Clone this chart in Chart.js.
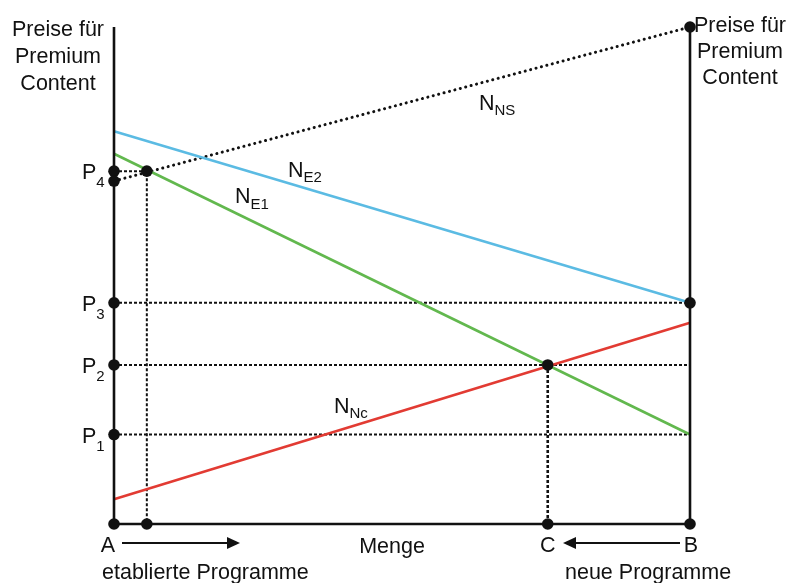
<!DOCTYPE html>
<html>
<head>
<meta charset="utf-8">
<style>
  html, body { margin: 0; padding: 0; background: #fff; }
  #wrap { width: 789px; height: 583px; position: relative; }
</style>
<script src="https://cdn.jsdelivr.net/npm/chart.js@4.4.1/dist/chart.umd.min.js"></script>
</head>
<body>
<div id="wrap"><canvas id="c" width="789" height="583"></canvas></div>
<script>
// ---- data (quantity 0..100 between A and B, price 0..100) ----
const quantityEnds = [0, 100];          // A, B
const nNS = [69, 100];                  // dotted demand line N_NS
const nE2 = [79, 44.5];                 // blue N_E2
const nE1 = [74.5, 18];                 // green N_E1
const nNc = [5, 40.5];                  // red N_Nc
const priceNames = ['1', '2', '3', '4'];
const priceValues = [18, 32, 44.5, 71]; // P1..P4
const qP4 = 5.7;                        // quantity at P4 intersection
const qC = 75.3;                        // quantity C
const axisTop = 100;

const FONT = '"Liberation Sans", Arial, sans-serif';
const MAIN = 21.5, SUBF = 15;

function seg(x0, y0, x1, y1) { return [{x: x0, y: y0}, {x: x1, y: y1}]; }

const dotted = {
  borderColor: '#111', borderWidth: 2, borderDash: [3, 2],
  pointRadius: 0, fill: false, clip: false, order: 5
};

const datasets = [
  {
    type: 'scatter', order: 0, clip: false,
    data: [
      {x: quantityEnds[0], y: 0},
      ...priceValues.map(v => ({x: quantityEnds[0], y: v})),
      {x: quantityEnds[0], y: nNS[0]},
      {x: qP4, y: priceValues[3]},
      {x: qP4, y: 0},
      {x: qC, y: priceValues[1]},
      {x: qC, y: 0},
      {x: quantityEnds[1], y: 0},
      {x: quantityEnds[1], y: nE2[1]},
      {x: quantityEnds[1], y: nNS[1]}
    ],
    pointRadius: 5.8, pointBackgroundColor: '#111', pointBorderWidth: 0, showLine: false
  },
  {
    data: [{x: 0, y: axisTop}, {x: 0, y: 0}, {x: 100, y: 0}, {x: 100, y: nNS[1]}],
    borderColor: '#111', borderWidth: 2.6, pointRadius: 0, clip: false, order: 1
  },
  { data: seg(quantityEnds[0], nE2[0], quantityEnds[1], nE2[1]), borderColor: '#5bbbe3', borderWidth: 2.6, pointRadius: 0, clip: false, order: 2 },
  { data: seg(quantityEnds[0], nE1[0], quantityEnds[1], nE1[1]), borderColor: '#62b84e', borderWidth: 2.6, pointRadius: 0, clip: false, order: 2 },
  { data: seg(quantityEnds[0], nNc[0], quantityEnds[1], nNc[1]), borderColor: '#e23b33', borderWidth: 2.6, pointRadius: 0, clip: false, order: 2 },
  { data: seg(quantityEnds[0], nNS[0], quantityEnds[1], nNS[1]), borderColor: '#111', borderWidth: 3, borderDash: [0.1, 5.5], borderCapStyle: 'round', pointRadius: 0, clip: false, order: 3 },
  Object.assign({ data: seg(0, priceValues[0], 100, priceValues[0]) }, dotted),
  Object.assign({ data: seg(0, priceValues[1], 100, priceValues[1]) }, dotted),
  Object.assign({ data: seg(0, priceValues[2], 100, priceValues[2]) }, dotted),
  Object.assign({ data: [{x: 0, y: priceValues[3]}, {x: qP4, y: priceValues[3]}, {x: qP4, y: 0}] }, dotted),
  Object.assign({ data: seg(qC, priceValues[1], qC, 0) }, dotted, {borderWidth: 2.6})
];

function sub(ctx, x, y, main, s, subDy) {
  ctx.textAlign = 'left';
  ctx.textBaseline = 'alphabetic';
  ctx.font = MAIN + 'px ' + FONT;
  ctx.fillText(main, x, y);
  const w = ctx.measureText(main).width;
  ctx.font = SUBF + 'px ' + FONT;
  ctx.fillText(s, x + w, y + subDy);
}

function arrow(ctx, x0, x1, y) {
  const dir = Math.sign(x1 - x0);
  ctx.save();
  ctx.strokeStyle = '#111'; ctx.fillStyle = '#111'; ctx.lineWidth = 2.2;
  ctx.beginPath(); ctx.moveTo(x0, y); ctx.lineTo(x1 - dir * 10, y); ctx.stroke();
  ctx.beginPath(); ctx.moveTo(x1, y); ctx.lineTo(x1 - dir * 13, y - 6); ctx.lineTo(x1 - dir * 13, y + 6); ctx.closePath(); ctx.fill();
  ctx.restore();
}

const labelsPlugin = {
  id: 'labels',
  afterDraw(chart) {
    const ctx = chart.ctx;
    const xs = chart.scales.x, ys = chart.scales.y;
    ctx.save();
    ctx.fillStyle = '#111';
    ctx.font = MAIN + 'px ' + FONT;
    ctx.textAlign = 'center'; ctx.textBaseline = 'alphabetic';
    ['Preise für', 'Premium', 'Content'].forEach((t, i) => ctx.fillText(t, 58, 36 + i * 27));
    ['Preise für', 'Premium', 'Content'].forEach((t, i) => ctx.fillText(t, 740, 32 + i * 26));
    priceValues.forEach((v, i) => {
      const py = ys.getPixelForValue(v);
      sub(ctx, 82, py + 8, 'P', priceNames[i], 8);
    });
    sub(ctx, 479, 110, 'N', 'NS', 5);
    sub(ctx, 288, 177, 'N', 'E2', 5);
    sub(ctx, 235, 203, 'N', 'E1', 6);
    sub(ctx, 334, 413, 'N', 'Nc', 5);
    ctx.font = MAIN + 'px ' + FONT;
    ctx.textAlign = 'center';
    const bx = xs.getPixelForValue(0), cx = xs.getPixelForValue(qC), ex = xs.getPixelForValue(100);
    ctx.fillText('A', bx - 6, 552);
    ctx.fillText('C', cx, 552);
    ctx.fillText('B', ex + 1, 552);
    ctx.fillText('Menge', 392, 553);
    ctx.textAlign = 'left';
    ctx.fillText('etablierte Programme', 102, 579);
    ctx.fillText('neue Programme', 565, 579);
    arrow(ctx, 122, 240, 543);
    arrow(ctx, 680, 563, 543);
    ctx.restore();
  }
};

new Chart(document.getElementById('c'), {
  type: 'line',
  data: { datasets },
  options: {
    responsive: false,
    animation: false,
    events: [],
    layout: { padding: { left: 114, right: 99, top: 27, bottom: 59 } },
    plugins: { legend: { display: false }, tooltip: { enabled: false } },
    scales: {
      x: { type: 'linear', min: 0, max: 100, display: false },
      y: { type: 'linear', min: 0, max: 100, display: false }
    }
  },
  plugins: [labelsPlugin]
});
</script>
</body>
</html>
